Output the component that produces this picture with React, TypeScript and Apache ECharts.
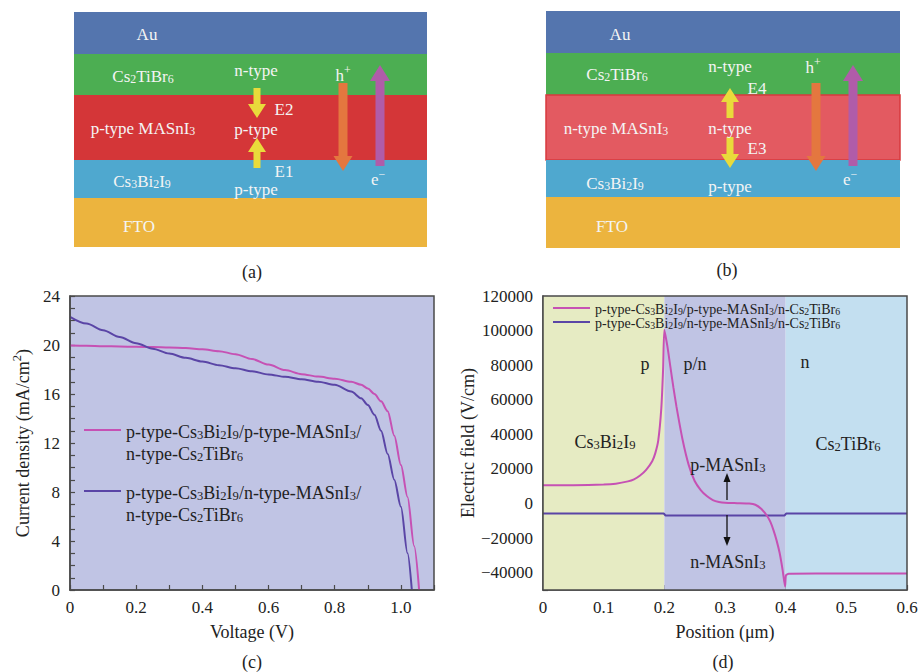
import React, { useEffect, useRef } from 'react';
import * as echarts from 'echarts';

const FONT = 'Liberation Serif';
const INK = '#222222';
const FRAME = '#4a4a4a';

// ---- (a)/(b) device stacks ----
const layerLabelsA = ['Au', 'Cs_2TiBr_6', 'p-type MASnI_3', 'Cs_3Bi_2I_9', 'FTO'];
const layerLabelsB = ['Au', 'Cs_2TiBr_6', 'n-type MASnI_3', 'Cs_3Bi_2I_9', 'FTO'];
const layerColors = ['#5475ae', '#4cae52', '#d43638', '#4fa8cf', '#ecb43e'];
const dopingA = ['n-type', 'p-type', 'p-type'];
const dopingB = ['n-type', 'n-type', 'p-type'];
const fieldLabelsA = ['E2', 'E1'];
const fieldLabelsB = ['E4', 'E3'];
const carrierLabels = ['h^+', 'e^−'];

// ---- (c) J–V curves ----
const voltageP = [0, 0.05, 0.1, 0.15, 0.2, 0.25, 0.3, 0.35, 0.4, 0.45, 0.5, 0.55, 0.6, 0.65, 0.7, 0.75, 0.8, 0.85, 0.88, 0.9, 0.92, 0.94, 0.96, 0.98, 1.0, 1.02, 1.04, 1.055];
const currentP = [19.95, 19.93, 19.9, 19.88, 19.85, 19.83, 19.8, 19.75, 19.65, 19.5, 19.25, 18.85, 18.4, 17.95, 17.62, 17.42, 17.25, 17.0, 16.75, 16.45, 16.0, 15.4, 14.6, 12.6, 10.2, 7.6, 3.6, 0];
const voltageN = [0, 0.05, 0.1, 0.15, 0.2, 0.25, 0.3, 0.35, 0.4, 0.45, 0.5, 0.55, 0.6, 0.65, 0.7, 0.75, 0.8, 0.85, 0.88, 0.9, 0.92, 0.94, 0.96, 0.98, 1.0, 1.02, 1.033];
const currentN = [22.3, 21.75, 21.2, 20.65, 20.15, 19.7, 19.3, 18.95, 18.65, 18.35, 18.1, 17.85, 17.6, 17.4, 17.2, 17.0, 16.75, 16.2, 15.65, 15.1, 14.3, 13.0, 11.1, 9.0, 6.8, 3.0, 0];

// ---- (d) electric field profiles ----
const positionP = [0, 0.05, 0.1, 0.12, 0.14, 0.15, 0.16, 0.17, 0.18, 0.185, 0.19, 0.195, 0.198, 0.2, 0.205, 0.21, 0.215, 0.22, 0.23, 0.24, 0.25, 0.26, 0.27, 0.28, 0.29, 0.3, 0.32, 0.34, 0.35, 0.36, 0.37, 0.375, 0.38, 0.385, 0.39, 0.395, 0.399, 0.4005, 0.405, 0.45, 0.5, 0.55, 0.6];
const fieldP = [10500, 10600, 11000, 11500, 12800, 14000, 16200, 19500, 24500, 29000, 36500, 55000, 78000, 100500, 91000, 79000, 67000, 56000, 37000, 22500, 13000, 7800, 4300, 2000, 900, 400, 200, 0, -700, -3200, -7500, -10800, -15500, -21300, -28500, -38500, -48000, -41500, -40600, -40500, -40500, -40500, -40500];
const positionN = [0, 0.199, 0.202, 0.398, 0.401, 0.6];
const fieldN = [-5800, -5800, -6900, -6900, -5800, -5800];
const regionBounds = [0, 0.2, 0.4, 0.6];
const regionColors = ['#e6ebc3', '#c0c4e4', '#c3dff0'];

const NAME_C_P = 'p-type-Cs3Bi2I9/p-type-MASnI3/n-type-Cs2TiBr6';
const NAME_C_N = 'p-type-Cs3Bi2I9/n-type-MASnI3/n-type-Cs2TiBr6';
const NAME_D_P = 'p-type-Cs3Bi2I9/p-type-MASnI3/n-Cs2TiBr6';
const NAME_D_N = 'p-type-Cs3Bi2I9/n-type-MASnI3/n-Cs2TiBr6';
const legendRich: Record<string, string> = {
  [NAME_C_P]: 'p-type-Cs_3Bi_2I_9/p-type-MASnI_3/\nn-type-Cs_2TiBr_6',
  [NAME_C_N]: 'p-type-Cs_3Bi_2I_9/n-type-MASnI_3/\nn-type-Cs_2TiBr_6',
  [NAME_D_P]: 'p-type-Cs_3Bi_2I_9/p-type-MASnI_3/n-Cs_2TiBr_6',
  [NAME_D_N]: 'p-type-Cs_3Bi_2I_9/n-type-MASnI_3/n-Cs_2TiBr_6',
};

const PINK = '#c651b4';
const PURPLE = '#5a45a6';

const GRID_C = { left: 70, top: 296, width: 364, height: 294 };
const GRID_D = { left: 543, top: 296, width: 364, height: 294 };

// "_x" -> subscript x, "^x" -> superscript x, everything else base text
function rich(s: string): string {
  let out = '';
  let buf = '';
  const flush = () => {
    if (buf) out += `{b|${buf}}`;
    buf = '';
  };
  for (let i = 0; i < s.length; i++) {
    const c = s[i];
    if (c === '_' || c === '^') {
      flush();
      out += `{${c === '_' ? 's' : 'u'}|${s[i + 1]}}`;
      i++;
    } else if (c === '\n') {
      flush();
      out += '\n';
    } else {
      buf += c;
    }
  }
  flush();
  return out;
}

function richStyles(size: number, color: string, lh = Math.round(size * 1.2)) {
  const small = Math.round(size * 0.7 * 10) / 10;
  const subH = Math.max(4, lh + 0.66 * small - 1.1 * size);
  const supH = Math.max(4, lh - 0.14 * size - 0.66 * small);
  const base = { fontFamily: FONT, color, fill: color };
  return {
    b: { ...base, fontSize: size, lineHeight: lh, verticalAlign: 'bottom' },
    s: { ...base, fontSize: small, lineHeight: subH, verticalAlign: 'bottom' },
    u: { ...base, fontSize: small, lineHeight: supH, verticalAlign: 'top' },
  };
}

function label(text: string, x: number, y: number, size: number, color: string, align = 'center') {
  return {
    type: 'text',
    x,
    y,
    silent: true,
    z: 20,
    style: {
      text: rich(text),
      rich: richStyles(size, color),
      align,
      verticalAlign: 'middle',
      fill: color,
      fontSize: size,
      fontFamily: FONT,
    },
  };
}

function blockArrow(cx: number, yTail: number, yTip: number, shaftW: number, headW: number, headL: number, color: string) {
  const dir = yTip > yTail ? 1 : -1;
  const yNeck = yTip - dir * headL;
  return {
    type: 'polygon',
    silent: true,
    z: 15,
    shape: {
      points: [
        [cx - shaftW / 2, yTail],
        [cx + shaftW / 2, yTail],
        [cx + shaftW / 2, yNeck],
        [cx + headW / 2, yNeck],
        [cx, yTip],
        [cx - headW / 2, yNeck],
        [cx - shaftW / 2, yNeck],
      ],
    },
    style: { fill: color },
  };
}

function thinArrow(cx: number, yTail: number, yTip: number) {
  const dir = yTip > yTail ? 1 : -1;
  const yNeck = yTip - dir * 9;
  return [
    { type: 'line', silent: true, z: 20, shape: { x1: cx, y1: yTail, x2: cx, y2: yNeck }, style: { stroke: '#111', lineWidth: 1.3 } },
    { type: 'polygon', silent: true, z: 20, shape: { points: [[cx - 3.5, yNeck], [cx + 3.5, yNeck], [cx, yTip]] }, style: { fill: '#111' } },
  ];
}

interface StackCfg {
  left: number;
  right: number;
  bounds: number[];
  names: string[];
  nameX: number[];
  nameY: number[];
  middleFill: string;
  middleStroke?: string;
  doping: string[];
  dopingX: number;
  dopingY: number[];
  fields: string[];
  fieldX: number;
  fieldY: number[];
  yellow: { x: number; tail: number; tip: number }[];
  hole: { x: number; y: number; ax: number };
  elec: { x: number; y: number; ax: number };
  caption: string;
  captionX: number;
  captionY: number;
}

function stack(cfg: StackCfg) {
  const els: any[] = [];
  const W = cfg.right - cfg.left;
  cfg.names.forEach((n, i) => {
    const top = cfg.bounds[i];
    const h = cfg.bounds[i + 1] - top;
    const isMid = i === 2;
    els.push({
      type: 'rect',
      silent: true,
      z: 5,
      shape: { x: cfg.left, y: top, width: W, height: h },
      style: {
        fill: isMid ? cfg.middleFill : layerColors[i],
        stroke: isMid && cfg.middleStroke ? cfg.middleStroke : null,
        lineWidth: isMid && cfg.middleStroke ? 1.5 : 0,
      },
    });
    els.push(label(n, cfg.left + cfg.nameX[i], cfg.nameY[i], 17, '#f4f4f4'));
  });
  cfg.doping.forEach((d, i) => els.push(label(d, cfg.dopingX, cfg.dopingY[i], 17, '#f4f4f4')));
  cfg.fields.forEach((f, i) => els.push(label(f, cfg.fieldX, cfg.fieldY[i], 17, '#f4f4f4')));
  cfg.yellow.forEach((a) => els.push(blockArrow(a.x, a.tail, a.tip, 7, 18, 14, '#e9db3b')));
  els.push(blockArrow(cfg.hole.ax, 83, 171, 9, 19, 15, '#e4773f'));
  els.push(blockArrow(cfg.elec.ax, 166, 65, 9, 20, 16, '#b05ca9'));
  els.push(label(carrierLabels[0], cfg.hole.x, cfg.hole.y, 17, '#f4f4f4'));
  els.push(label(carrierLabels[1], cfg.elec.x, cfg.elec.y, 17, '#f4f4f4'));
  els.push(label(cfg.caption, cfg.captionX, cfg.captionY, 18, INK));
  return els;
}

const pairs = (xs: number[], ys: number[]) => xs.map((x, i) => [x, ys[i]]);

const axisBase = {
  axisLine: { show: true, onZero: false, lineStyle: { color: FRAME, width: 1.5 } },
  axisTick: { show: true, inside: true, length: 5, lineStyle: { color: FRAME, width: 1.2 } },
  splitLine: { show: false },
  nameLocation: 'middle' as const,
};
const tickFont = { fontFamily: FONT, fontSize: 17, color: INK };
const nameFont = { fontFamily: FONT, fontSize: 18, color: INK, rich: richStyles(18, INK) };
const fmtNeg = (v: number) => (v < 0 ? '−' + Math.abs(v) : String(v));

function buildOption() {
  const graphic: any[] = [
    ...stack({
      left: 74,
      right: 427,
      bounds: [12, 54, 95, 160, 198, 247],
      names: layerLabelsA,
      nameX: [73, 69, 69, 68, 65],
      nameY: [33, 75, 127, 180, 225],
      middleFill: '#d43638',
      doping: dopingA,
      dopingX: 256,
      dopingY: [69, 128, 188],
      fields: fieldLabelsA,
      fieldX: 284,
      fieldY: [108, 170],
      yellow: [
        { x: 257, tail: 88, tip: 118 },
        { x: 257, tail: 168, tip: 138 },
      ],
      hole: { x: 343, y: 74, ax: 343 },
      elec: { x: 378, y: 178, ax: 380 },
      caption: '(a)',
      captionX: 252,
      captionY: 270,
    }),
    ...stack({
      left: 546,
      right: 900,
      bounds: [11, 53, 95, 160, 197, 248],
      names: layerLabelsB,
      nameX: [74, 71, 70, 69, 66],
      nameY: [33, 73, 127, 182, 225],
      middleFill: '#e35a61',
      middleStroke: '#d83a3e',
      doping: dopingB,
      dopingX: 730,
      dopingY: [65, 127, 185],
      fields: fieldLabelsB,
      fieldX: 757,
      fieldY: [87, 147],
      yellow: [
        { x: 730, tail: 118, tip: 88 },
        { x: 730, tail: 137, tip: 168 },
      ],
      hole: { x: 813, y: 66, ax: 816 },
      elec: { x: 850, y: 178, ax: 853 },
      caption: '(b)',
      captionX: 727,
      captionY: 268,
    }),
    // frames for the two plots
    {
      type: 'rect', silent: true, z: 30,
      shape: { x: GRID_C.left, y: GRID_C.top, width: GRID_C.width, height: GRID_C.height },
      style: { fill: 'none', stroke: FRAME, lineWidth: 1.5 },
    },
    {
      type: 'rect', silent: true, z: 30,
      shape: { x: GRID_D.left, y: GRID_D.top, width: GRID_D.width, height: GRID_D.height },
      style: { fill: 'none', stroke: FRAME, lineWidth: 1.5 },
    },
    label('(c)', 252, 660, 18, INK),
    label('(d)', 723, 660, 18, INK),
    // region annotations in (d)
    label('p', 645, 362, 18, INK),
    label('p/n', 695, 362, 18, INK),
    label('n', 805, 360, 18, INK),
    label('Cs_3Bi_2I_9', 605, 440, 18, INK),
    label('Cs_2TiBr_6', 848, 442, 18, INK),
    label('p-MASnI_3', 728, 463, 18, INK),
    label('n-MASnI_3', 728, 560, 18, INK),
    ...thinArrow(727, 500, 473),
    ...thinArrow(727, 515, 546),
  ];

  const legendCommon = {
    orient: 'vertical' as const,
    padding: 0,
    itemGap: 0,
    itemWidth: 37,
    itemHeight: 2,
    icon: 'rect',
    selectedMode: false,
    formatter: (name: string) => rich(legendRich[name]),
  };

  return {
    animation: false,
    backgroundColor: '#ffffff',
    textStyle: { fontFamily: FONT },
    grid: [
      { ...GRID_C, show: true, backgroundColor: '#c0c4e4', borderWidth: 0 },
      { ...GRID_D, show: false },
    ],
    legend: [
      { ...legendCommon, data: [NAME_C_P], left: 84, top: 423, textStyle: { fontFamily: FONT, rich: richStyles(18, INK, 22), padding: [22, 0, 0, 0] } },
      { ...legendCommon, data: [NAME_C_N], left: 84, top: 484, textStyle: { fontFamily: FONT, rich: richStyles(18, INK, 22), padding: [22, 0, 0, 0] } },
      { ...legendCommon, data: [NAME_D_P, NAME_D_N], left: 553, top: 302, textStyle: { fontFamily: FONT, rich: richStyles(14, INK, 16) } },
    ],
    xAxis: [
      {
        ...axisBase,
        gridIndex: 0,
        type: 'value',
        min: 0,
        max: 1.1,
        interval: 0.1,
        axisLabel: {
          ...tickFont,
          margin: 9,
          formatter: (v: number) => {
            const k = Math.round(v * 10);
            if (k % 2 !== 0) return '';
            return k === 0 ? '0' : (k / 10).toFixed(1);
          },
        },
        name: 'Voltage (V)',
        nameGap: 33,
        nameTextStyle: nameFont,
      },
      {
        ...axisBase,
        gridIndex: 1,
        type: 'value',
        min: 0,
        max: 0.6,
        interval: 0.05,
        axisLabel: {
          ...tickFont,
          margin: 9,
          formatter: (v: number) => {
            const k = Math.round(v * 20);
            if (k % 2 !== 0) return '';
            return k === 0 ? '0' : (k / 20).toFixed(1);
          },
        },
        name: 'Position (μm)',
        nameGap: 33,
        nameTextStyle: nameFont,
      },
    ],
    yAxis: [
      {
        ...axisBase,
        gridIndex: 0,
        type: 'value',
        min: 0,
        max: 24,
        interval: 1,
        axisLabel: {
          ...tickFont,
          margin: 10,
          formatter: (v: number) => (Math.round(v) % 4 === 0 ? String(Math.round(v)) : ''),
        },
        name: rich('Current density (mA/cm^2)'),
        nameGap: 38,
        nameTextStyle: nameFont,
      },
      {
        ...axisBase,
        gridIndex: 1,
        type: 'value',
        min: -50000,
        max: 120000,
        interval: 10000,
        axisLabel: {
          ...tickFont,
          margin: 10,
          formatter: (v: number) => (Math.round(v / 10000) % 2 === 0 ? fmtNeg(Math.round(v)) : ''),
        },
        name: 'Electric field (V/cm)',
        nameGap: 66,
        nameTextStyle: nameFont,
      },
    ],
    series: [
      {
        name: NAME_C_P,
        type: 'line',
        xAxisIndex: 0,
        yAxisIndex: 0,
        data: pairs(voltageP, currentP),
        showSymbol: false,
        smooth: 0.3,
        smoothMonotone: 'x',
        color: PINK,
        lineStyle: { color: PINK, width: 2 },
        z: 3,
      },
      {
        name: NAME_C_N,
        type: 'line',
        xAxisIndex: 0,
        yAxisIndex: 0,
        data: pairs(voltageN, currentN),
        showSymbol: false,
        smooth: 0.3,
        smoothMonotone: 'x',
        color: PURPLE,
        lineStyle: { color: PURPLE, width: 2 },
        z: 3,
      },
      {
        name: 'regions',
        type: 'line',
        xAxisIndex: 1,
        yAxisIndex: 1,
        data: [],
        silent: true,
        z: 1,
        markArea: {
          silent: true,
          data: regionColors.map((c, i) => [
            { xAxis: regionBounds[i], itemStyle: { color: c } },
            { xAxis: regionBounds[i + 1] },
          ]),
        },
      },
      {
        name: NAME_D_P,
        type: 'line',
        xAxisIndex: 1,
        yAxisIndex: 1,
        data: pairs(positionP, fieldP),
        showSymbol: false,
        smooth: 0.2,
        color: PINK,
        lineStyle: { color: PINK, width: 2 },
        z: 4,
      },
      {
        name: NAME_D_N,
        type: 'line',
        xAxisIndex: 1,
        yAxisIndex: 1,
        data: pairs(positionN, fieldN),
        showSymbol: false,
        color: PURPLE,
        lineStyle: { color: PURPLE, width: 2 },
        z: 3,
      },
    ],
    graphic,
  };
}

export default function App() {
  const ref = useRef<HTMLDivElement>(null);
  useEffect(() => {
    if (!ref.current) return;
    const chart = echarts.init(ref.current, undefined, { renderer: 'svg' });
    chart.setOption(buildOption() as any);
    return () => chart.dispose();
  }, []);
  return (
    <div
      ref={ref}
      style={{ position: 'fixed', left: 0, top: 0, width: 921, height: 672, background: '#fff' }}
    />
  );
}
